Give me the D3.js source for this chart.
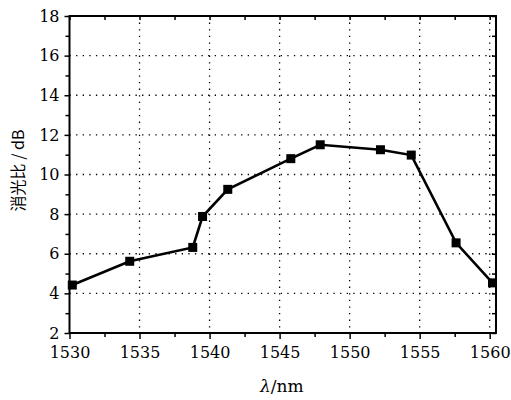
<!DOCTYPE html>
<html>
<head>
<meta charset="utf-8">
<script src="https://cdn.jsdelivr.net/npm/d3@7"></script>
<style>
  body { margin: 0; background: #fff; }
  svg { display: block; }
</style>
</head>
<body>
<div id="chart"></div>
<script>
// wavelength (nm) and extinction ratio (dB)
var wavelength = [1530.2, 1534.3, 1538.8, 1539.5, 1541.3, 1545.8, 1547.9, 1552.2, 1554.4, 1557.6, 1560.2];
var extinction = [4.42, 5.62, 6.32, 7.88, 9.25, 10.8, 11.5, 11.25, 10.98, 6.55, 4.53];
var xTicks = [1530, 1535, 1540, 1545, 1550, 1555, 1560];
var yTicks = [2, 4, 6, 8, 10, 12, 14, 16, 18];

var serif = "'DejaVu Serif', 'Liberation Serif', serif";

var width = 511, height = 400;
var margin = {top: 16, right: 15, bottom: 67, left: 69.5};
var w = width - margin.left - margin.right;
var h = height - margin.top - margin.bottom;

var svg = d3.select("#chart").append("svg")
  .attr("width", width)
  .attr("height", height);

var g = svg.append("g")
  .attr("transform", "translate(" + margin.left + "," + margin.top + ")");

var x = d3.scaleLinear().domain([1530, 1560.45]).range([0, w]);
var y = d3.scaleLinear().domain([2, 18]).range([h, 0]);

// dotted grid
g.selectAll(".vgrid")
  .data(xTicks.slice(1))
  .enter().append("line")
  .attr("x1", function(d) { return x(d); })
  .attr("x2", function(d) { return x(d); })
  .attr("y1", 0).attr("y2", h)
  .attr("stroke", "#000")
  .attr("stroke-width", 1.3)
  .attr("stroke-dasharray", "1.3,5.3");

g.selectAll(".hgrid")
  .data(yTicks.slice(1, -1))
  .enter().append("line")
  .attr("x1", 0).attr("x2", w)
  .attr("y1", function(d) { return y(d); })
  .attr("y2", function(d) { return y(d); })
  .attr("stroke", "#000")
  .attr("stroke-width", 1.3)
  .attr("stroke-dasharray", "1.3,5.3");

// minor tick values
var xMinor = d3.range(1532.5, 1560, 5);
var yMinor = d3.range(3, 18, 2);

function styleAxis(sel) {
  sel.attr("font-family", serif).attr("font-size", 16);
  sel.select(".domain").remove();
  sel.selectAll(".tick line").attr("stroke", "#000").attr("stroke-width", 1.5);
  sel.selectAll(".tick text").attr("fill", "#000");
}

// bottom axis
g.append("g")
  .attr("transform", "translate(0," + h + ")")
  .call(d3.axisBottom(x).tickValues(xTicks).tickFormat(d3.format("d")).tickSize(6).tickPadding(8))
  .call(styleAxis);
g.append("g")
  .attr("transform", "translate(0," + h + ")")
  .call(d3.axisBottom(x).tickValues(xMinor).tickFormat("").tickSize(4))
  .call(styleAxis);

// left axis
g.append("g")
  .call(d3.axisLeft(y).tickValues(yTicks).tickSize(5).tickPadding(5))
  .call(styleAxis);
g.append("g")
  .call(d3.axisLeft(y).tickValues(yMinor).tickFormat("").tickSize(4))
  .call(styleAxis);

// top axis (inward ticks)
g.append("g")
  .call(d3.axisBottom(x).tickValues(xTicks.concat(xMinor)).tickFormat("").tickSize(4))
  .call(styleAxis);

// right axis (inward ticks)
g.append("g")
  .attr("transform", "translate(" + w + ",0)")
  .call(d3.axisLeft(y).tickValues(yTicks.concat(yMinor)).tickFormat("").tickSize(4))
  .call(styleAxis);

// frame
g.append("rect")
  .attr("width", w).attr("height", h)
  .attr("fill", "none")
  .attr("stroke", "#000")
  .attr("stroke-width", 2);

// data line
var pts = wavelength.map(function(d, i) { return [d, extinction[i]]; });
var line = d3.line()
  .x(function(d) { return x(d[0]); })
  .y(function(d) { return y(d[1]); });

g.append("path")
  .datum(pts)
  .attr("d", line)
  .attr("fill", "none")
  .attr("stroke", "#000")
  .attr("stroke-width", 2.6);

var ms = 9;
g.selectAll(".pt")
  .data(pts)
  .enter().append("rect")
  .attr("class", "pt")
  .attr("x", function(d) { return x(d[0]) - ms / 2; })
  .attr("y", function(d) { return y(d[1]) - ms / 2; })
  .attr("width", ms).attr("height", ms)
  .attr("fill", "#000");

// axis titles
var xl = svg.append("text")
  .attr("x", margin.left + w / 2 - 1)
  .attr("y", 392)
  .attr("text-anchor", "middle")
  .attr("font-family", serif)
  .attr("font-size", 17);
xl.append("tspan").attr("font-style", "italic").text("λ");
xl.append("tspan").text("/nm");

svg.append("text")
  .attr("transform", "translate(24," + (margin.top + h / 2 - 4) + ") rotate(-90)")
  .attr("text-anchor", "middle")
  .attr("font-family", "'Noto Sans CJK SC', " + serif)
  .attr("font-size", 16)
  .text("消光比 / dB");
</script>
</body>
</html>
